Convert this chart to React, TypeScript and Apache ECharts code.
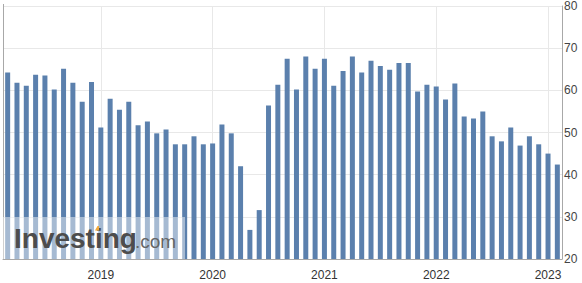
import React, { useEffect, useRef } from "react";
import * as echarts from "echarts";

const categories: string[] = [
  "Mar 2018", "Apr 2018", "May 2018", "Jun 2018", "Jul 2018", "Aug 2018", "Sep 2018", "Oct 2018", "Nov 2018", "Dec 2018",
  "Jan 2019", "Feb 2019", "Mar 2019", "Apr 2019", "May 2019", "Jun 2019", "Jul 2019", "Aug 2019", "Sep 2019", "Oct 2019", "Nov 2019", "Dec 2019",
  "Jan 2020", "Feb 2020", "Mar 2020", "Apr 2020", "May 2020", "Jun 2020", "Jul 2020", "Aug 2020", "Sep 2020", "Oct 2020", "Nov 2020", "Dec 2020",
  "Jan 2021", "Feb 2021", "Mar 2021", "Apr 2021", "May 2021", "Jun 2021", "Jul 2021", "Aug 2021", "Sep 2021", "Oct 2021", "Nov 2021", "Dec 2021",
  "Jan 2022", "Feb 2022", "Mar 2022", "Apr 2022", "May 2022", "Jun 2022", "Jul 2022", "Aug 2022", "Sep 2022", "Oct 2022", "Nov 2022", "Dec 2022",
  "Jan 2023", "Feb 2023",
];

const values: number[] = [
  64.2, 61.8, 61.1, 63.7, 63.5, 60.2, 65.1, 61.8, 57.3, 62.0,
  51.2, 58.0, 55.4, 57.3, 51.7, 52.6, 49.8, 50.7, 47.2, 47.2, 49.1, 47.2,
  47.4, 51.9, 49.8, 42.0, 26.9, 31.6, 56.4, 61.3, 67.5, 60.2, 68.0, 65.1,
  67.5, 61.1, 64.6, 68.0, 64.2, 67.0, 65.8, 64.9, 66.5, 66.5, 59.7, 61.3,
  60.9, 57.8, 61.6, 53.8, 53.3, 55.0, 49.1, 47.9, 51.2, 46.9, 49.1, 47.2,
  45.0, 42.4,
];

const yearCategories: string[] = ["Jan 2019", "Jan 2020", "Jan 2021", "Jan 2022", "Jan 2023"];
const yTicks = { min: 20, max: 80, interval: 10 };

export default function App() {
  const ref = useRef<HTMLDivElement>(null);
  useEffect(() => {
    if (!ref.current) return;
    const chart = echarts.init(ref.current, undefined, { renderer: "svg" });
    chart.setOption({
      animation: false,
      grid: { left: 3, right: 20, top: 4, bottom: 24, containLabel: false },
      xAxis: {
        type: "category",
        data: categories,
        boundaryGap: true,
        axisLine: { show: true, lineStyle: { color: "#a8a8a8", width: 1 } },
        axisTick: { show: false },
        splitLine: { show: false },
        axisLabel: {
          interval: (idx: number, val: string) => val.startsWith("Jan"),
          formatter: (val: string) => val.slice(4),
          color: "#333",
          fontSize: 12,
          fontFamily: "Liberation Sans, Arial, sans-serif",
          margin: 10,
        },
      },
      yAxis: {
        type: "value",
        position: "right",
        min: yTicks.min,
        max: yTicks.max,
        interval: yTicks.interval,
        axisLine: { show: true, lineStyle: { color: "#a8a8a8", width: 1 } },
        axisTick: { show: false },
        splitLine: { show: true, lineStyle: { color: "#e8e8e8", width: 1 } },
        axisLabel: {
          color: "#444",
          fontSize: 12,
          fontFamily: "Liberation Sans, Arial, sans-serif",
          margin: 2,
        },
      },
      series: [
        {
          type: "bar",
          data: values,
          barWidth: 5,
          itemStyle: { color: "#5b80ad" },
          z: 3,
          markLine: {
            silent: true,
            symbol: "none",
            label: { show: false },
            lineStyle: { color: "#e8e8e8", width: 1, type: "solid" },
            data: yearCategories.map((c) => ({ xAxis: c })),
            z: 1,
          },
        },
      ],
      graphic: [
        {
          type: "line",
          shape: { x1: 3.5, y1: 4, x2: 3.5, y2: 259 },
          style: { stroke: "#a8a8a8", lineWidth: 1 },
          z: 10,
        },
        {
          type: "rect",
          shape: { x: 0, y: 217, width: 185, height: 42 },
          style: { fill: "rgba(255,255,255,0.46)" },
          z: 20,
        },
        {
          type: "text",
          x: 14,
          y: 238,
          style: {
            text: "Investing",
            fill: "#4d4d4d",
            font: "bold 28px 'Liberation Sans', Arial, sans-serif",
            verticalAlign: "middle",
          },
          z: 21,
        },
        {
          type: "text",
          x: 135,
          y: 241,
          style: {
            text: ".com",
            fill: "#666",
            font: "19px 'Liberation Sans', Arial, sans-serif",
            verticalAlign: "middle",
          },
          z: 21,
        },
        {
          type: "polygon",
          shape: { points: [[95, 230.5], [99, 230.5], [99, 226], [97.5, 226]] },
          style: { fill: "#f3a93a" },
          z: 22,
        },
      ],
    });
    return () => chart.dispose();
  }, []);
  return <div ref={ref} style={{ width: 582, height: 283, position: "absolute", left: 0, top: 0 }} />;
}
